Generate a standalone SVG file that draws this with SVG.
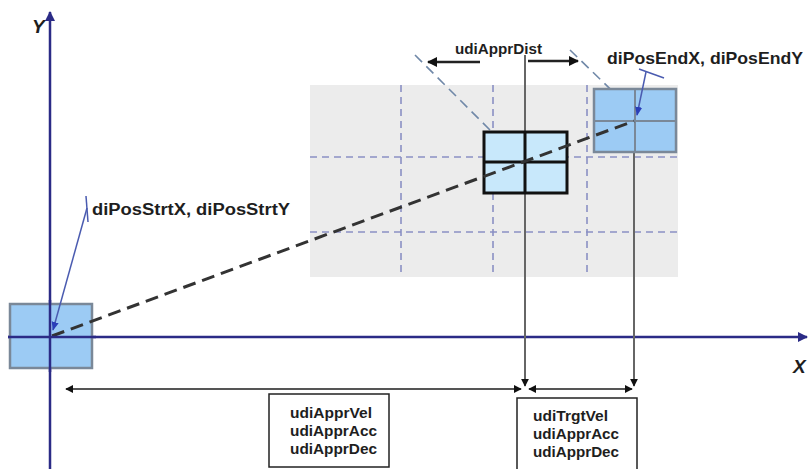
<svg xmlns="http://www.w3.org/2000/svg" width="811" height="469" viewBox="0 0 811 469">
  <style>
    .lbl { font-family: "Liberation Sans", Arial, sans-serif; font-weight: bold; fill: #1e1e1e; }
    .axis { stroke: #2b2b86; stroke-width: 2.5; fill: none; }
    .grid { stroke: #8a90c4; stroke-width: 1.6; stroke-dasharray: 7 5; fill: none; }
    .guide { stroke: #666; stroke-width: 2; fill: none; }
    .dim { stroke: #555; stroke-width: 2; fill: none; }
    .tile { fill: #9ccbf4; stroke: #7a8898; stroke-width: 2.5; }
    .leader { stroke: #4a5bb0; stroke-width: 1.5; fill: none; }
    .diag { stroke: #7088a8; stroke-width: 1.6; stroke-dasharray: 10 6; fill: none; }
  </style>
  <defs>
    <marker id="axisHead" viewBox="0 0 10 10" refX="9" refY="5" markerWidth="4" markerHeight="4" orient="auto">
      <path d="M0,0 L10,5 L0,10 z" fill="#2b2b86"/>
    </marker>
    <marker id="dimHead" viewBox="0 0 10 10" refX="9" refY="5" markerWidth="4" markerHeight="4" orient="auto-start-reverse">
      <path d="M0,0 L10,5 L0,10 z" fill="#111"/>
    </marker>
    <marker id="leadHead" viewBox="0 0 10 10" refX="9" refY="5" markerWidth="6" markerHeight="6" orient="auto">
      <path d="M0,1 L10,5 L0,9 z" fill="#2a3fb8"/>
    </marker>
  </defs>

  <rect width="811" height="469" fill="#ffffff"/>

  <!-- shaded target region with grid -->
  <g id="region">
    <rect x="310" y="85" width="368" height="192" fill="#ececec"/>
    <path class="grid" d="M401,85 V277 M493,85 V277 M587,85 V277 M310,157 H678 M310,232 H678"/>
  </g>

  <g id="connectors">
    <!-- axes -->
    <line class="axis" x1="50" y1="469" x2="50" y2="12" marker-end="url(#axisHead)"/>
    <line class="axis" x1="8" y1="337" x2="807" y2="337" marker-end="url(#axisHead)"/>

    <!-- approach distance guides -->
    <path class="diag" d="M415,55 L507,147 M570,50 L637,115"/>
    <line x1="480" y1="62" x2="428" y2="62" stroke="#222" stroke-width="2.5" marker-end="url(#dimHead)"/>
    <line x1="528" y1="61" x2="578" y2="61" stroke="#222" stroke-width="2.5" marker-end="url(#dimHead)"/>

    <!-- vertical projections -->
    <line class="guide" x1="525" y1="55" x2="525" y2="386" marker-end="url(#dimHead)"/>
    <line class="guide" x1="634" y1="152" x2="634" y2="386" marker-end="url(#dimHead)"/>

    <!-- horizontal dimension lines -->
    <line class="dim" x1="66" y1="389" x2="521" y2="389" marker-start="url(#dimHead)" marker-end="url(#dimHead)"/>
    <line class="dim" x1="529" y1="389" x2="632" y2="389" marker-start="url(#dimHead)" marker-end="url(#dimHead)"/>
  </g>

  <!-- start tile -->
  <g id="start">
    <rect class="tile" x="10" y="304" width="82" height="64"/>
  </g>

  <!-- intermediate tile -->
  <g id="approach">
    <rect x="484" y="132" width="83" height="61" fill="#c8e8fb" stroke="#111" stroke-width="3"/>
    <path d="M525,132 V193 M484,162 H567" stroke="#111" stroke-width="3"/>
  </g>

  <!-- end tile -->
  <g id="end">
    <rect class="tile" x="594" y="89" width="82" height="63"/>
    <path d="M635,89 V152 M594,121 H676" stroke="#7a8898" stroke-width="2"/>
  </g>

  <!-- path from start to end -->
  <line x1="52" y1="336" x2="634" y2="121" stroke="#333" stroke-width="3" stroke-dasharray="13 7"/>

  <!-- redraw axis crossing on top of start tile -->
  <path class="axis" d="M50,300 V372 M8,337 H96"/>

  <!-- leaders -->
  <g id="startLabel">
    <line class="leader" x1="86" y1="196" x2="88" y2="222"/>
    <line class="leader" x1="87" y1="208" x2="53" y2="330" marker-end="url(#leadHead)"/>
    <text class="lbl" x="92" y="215" font-size="16" textLength="198" lengthAdjust="spacingAndGlyphs">diPosStrtX, diPosStrtY</text>
  </g>
  <g id="endLabel">
    <line class="leader" x1="639" y1="69" x2="664" y2="78"/>
    <line class="leader" x1="646" y1="72" x2="637" y2="115" marker-end="url(#leadHead)"/>
    <text class="lbl" x="607" y="64" font-size="16.5" textLength="196" lengthAdjust="spacingAndGlyphs">diPosEndX, diPosEndY</text>
  </g>

  <text class="lbl" x="455" y="54" font-size="15" textLength="87" lengthAdjust="spacingAndGlyphs">udiApprDist</text>
  <text class="lbl" x="32" y="33" font-size="19" font-style="italic" fill="#111">Y</text>
  <text class="lbl" x="793" y="373" font-size="19" font-style="italic" fill="#111">X</text>

  <!-- parameter boxes -->
  <g id="approachParams">
    <rect x="269" y="394" width="120" height="73" fill="#fff" stroke="#222" stroke-width="1.5"/>
    <text class="lbl" x="290" y="418" font-size="15.5" textLength="82" lengthAdjust="spacingAndGlyphs">udiApprVel</text>
    <text class="lbl" x="290" y="436" font-size="15.5" textLength="87" lengthAdjust="spacingAndGlyphs">udiApprAcc</text>
    <text class="lbl" x="290" y="454" font-size="15.5" textLength="87" lengthAdjust="spacingAndGlyphs">udiApprDec</text>
  </g>
  <g id="targetParams">
    <rect x="517" y="398" width="120" height="75" fill="#fff" stroke="#222" stroke-width="1.5"/>
    <text class="lbl" x="533" y="421" font-size="15.5" textLength="75" lengthAdjust="spacingAndGlyphs">udiTrgtVel</text>
    <text class="lbl" x="533" y="439" font-size="15.5" textLength="86" lengthAdjust="spacingAndGlyphs">udiApprAcc</text>
    <text class="lbl" x="533" y="457" font-size="15.5" textLength="86" lengthAdjust="spacingAndGlyphs">udiApprDec</text>
  </g>
</svg>
